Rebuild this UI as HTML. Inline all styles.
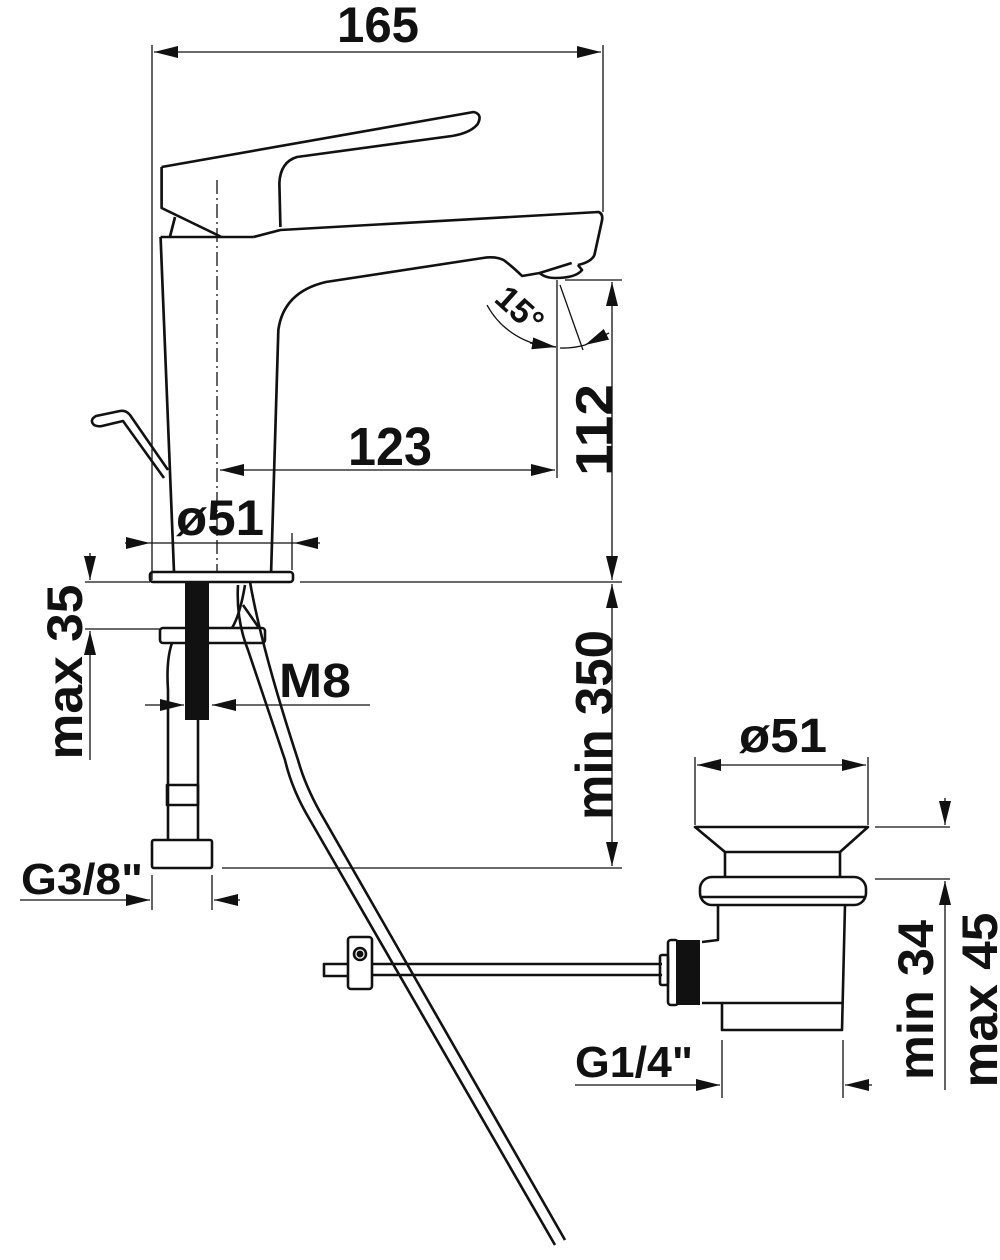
<!DOCTYPE html>
<html><head><meta charset="utf-8"><style>
html,body{margin:0;padding:0;background:#fff}
svg{display:block}
text{font-family:"Liberation Sans Narrow","Liberation Sans",sans-serif;font-weight:bold;fill:#111}
</style></head><body>
<svg width="1000" height="1260" viewBox="0 0 1000 1260" xmlns="http://www.w3.org/2000/svg">
<defs>
<marker id="a" viewBox="0 0 24 12" refX="24" refY="6" markerWidth="24" markerHeight="12" markerUnits="userSpaceOnUse" orient="auto-start-reverse"><path d="M0,0L24,6L0,12z" fill="#111"/></marker>
</defs>
<g stroke="#111" fill="none" stroke-width="1.3">
<line x1="152" y1="45" x2="152" y2="580"/>
<line x1="603" y1="45" x2="603" y2="212"/>
<line x1="154" y1="52" x2="601" y2="52" marker-start="url(#a)" marker-end="url(#a)"/>
<line x1="220" y1="470" x2="555" y2="470" marker-start="url(#a)" marker-end="url(#a)"/>
<line x1="557" y1="280" x2="557" y2="478"/>
<line x1="565" y1="280" x2="622" y2="280"/>
<line x1="612" y1="282" x2="612" y2="580" marker-start="url(#a)" marker-end="url(#a)"/>
<line x1="300" y1="582" x2="622" y2="582"/>
<line x1="612" y1="584" x2="612" y2="866" marker-start="url(#a)" marker-end="url(#a)"/>
<line x1="222" y1="868" x2="622" y2="868"/>
<path d="M487,305 A80,80 0 0 0 556,347"/>
<line x1="530" y1="343" x2="556" y2="347" marker-end="url(#a)"/>
<path d="M560,348 A80,80 0 0 0 585,345"/>
<line x1="609" y1="333" x2="585" y2="345" marker-end="url(#a)"/>
<line x1="560" y1="285" x2="583" y2="350"/>
<line x1="125" y1="543" x2="150" y2="543" marker-end="url(#a)"/>
<line x1="150" y1="543" x2="294" y2="543"/>
<line x1="320" y1="543" x2="294" y2="543" marker-end="url(#a)"/>
<line x1="292" y1="533" x2="292" y2="570"/>
<line x1="85" y1="582" x2="150" y2="582"/>
<line x1="85" y1="629" x2="160" y2="629"/>
<line x1="90" y1="553" x2="90" y2="580" marker-end="url(#a)"/>
<line x1="90" y1="760" x2="90" y2="631" marker-end="url(#a)"/>
<line x1="145" y1="705" x2="184" y2="705" marker-end="url(#a)"/>
<line x1="370" y1="705" x2="212" y2="705" marker-end="url(#a)"/>
<line x1="152" y1="875" x2="152" y2="910"/>
<line x1="212" y1="875" x2="212" y2="910"/>
<line x1="20" y1="900" x2="150" y2="900" marker-end="url(#a)"/>
<line x1="240" y1="900" x2="214" y2="900" marker-end="url(#a)"/>
<line x1="695" y1="757" x2="695" y2="825"/>
<line x1="868" y1="757" x2="868" y2="825"/>
<line x1="697" y1="765" x2="866" y2="765" marker-start="url(#a)" marker-end="url(#a)"/>
<line x1="875" y1="827" x2="950" y2="827"/>
<line x1="875" y1="879" x2="950" y2="879"/>
<line x1="945" y1="798" x2="945" y2="825" marker-end="url(#a)"/>
<line x1="945" y1="1090" x2="945" y2="881" marker-end="url(#a)"/>
<line x1="722" y1="1040" x2="722" y2="1098"/>
<line x1="843" y1="1040" x2="843" y2="1098"/>
<line x1="575" y1="1085" x2="720" y2="1085" marker-end="url(#a)"/>
<line x1="872" y1="1085" x2="845" y2="1085" marker-end="url(#a)"/>
<line x1="217" y1="180" x2="217" y2="572" stroke-dasharray="14,4,2,4"/>
</g>
<g stroke="#111" fill="none" stroke-width="2.6" stroke-linejoin="round">
<g transform="matrix(1.033,0,0,1,-2.64,0)">
<path d="M159,167 L461,112 Q470,114 465,124 Q458,133 440,136 L290,157 Q274,162 273,183 L274,227"/>
<path d="M159,167 L159,208 L217,237 L248,237"/>
<path d="M248,237 L274,230 L582,212 Q587,214 585,222 L578,255 Q575,262 562,265"/>
<path d="M562,265 L566,270 Q560,278 540,278 Q530,278 525,273 L556,263"/>
<path d="M525,273 L508,276 Q498,266 490,260 Q482,256 470,258 L318,282 Q277,292 272,330 L265,572"/>
<path d="M158,237 L171,572"/>
<path d="M158,237 L217,237 M167,237 L172,217"/>
</g>
<rect x="150" y="572" width="143" height="10" rx="3"/>
<path d="M168,470 L130,415 Q126,410 120,411 L96,416 Q89,420 94,425 Q98,427 102,426 L123,421 L164,478"/>
<rect x="160" y="628" width="105" height="15" rx="3"/>
<path d="M172,643 Q166,660 168,690 L168,840 M198,720 L198,840"/>
<rect x="167" y="785" width="31" height="20" fill="none"/>
<rect x="152" y="840" width="60" height="28" rx="2"/>
<path d="M238,585 Q236,620 248,650 L285,760 Q292,790 310,820 L555,1245"/>
<path d="M250,582 Q262,650 298,760 Q305,785 320,812 L565,1240"/>
<path d="M245,585 Q240,615 232,628 M259,628 L243,605"/>
<path d="M372,964 L662,964 M372,975 L662,975 M348,964 L324,964 L324,976 L348,976"/>
<rect x="348" y="937" width="24" height="52" rx="3" fill="#fff"/>
<circle cx="360" cy="954" r="6"/>
<path d="M695,827 L868,827 L840,852 L725,852 Z"/>
<path d="M725,852 L725,877 M840,852 L840,877"/>
<rect x="700" y="877" width="166" height="28" rx="12"/>
<line x1="700" y1="897" x2="866" y2="897"/>
<path d="M718,905 L718,940 L702,942 M845,905 L842,1030 L722,1030 L722,1003 L702,1003"/>
<line x1="722" y1="1003" x2="843" y2="1003"/>
<rect x="668" y="940" width="10" height="65" rx="3"/>
<rect x="660" y="955" width="8" height="30" rx="2"/>
</g>
<rect x="676" y="940" width="24" height="65" fill="#111"/>
<rect x="185" y="582" width="24" height="138" fill="#111"/>
<circle cx="360" cy="954" r="3.5" fill="#111"/>
<g>
<text x="378" y="42" font-size="50" text-anchor="middle" textLength="82" lengthAdjust="spacingAndGlyphs">165</text>
<text x="390" y="465" font-size="54" text-anchor="middle" textLength="84" lengthAdjust="spacingAndGlyphs">123</text>
<text x="220" y="535" font-size="50" text-anchor="middle" textLength="88" lengthAdjust="spacingAndGlyphs">ø51</text>
<text x="315" y="697" font-size="48" text-anchor="middle" textLength="72" lengthAdjust="spacingAndGlyphs">M8</text>
<text x="82" y="894" font-size="44" text-anchor="middle" textLength="122" lengthAdjust="spacingAndGlyphs">G3/8"</text>
<text x="783" y="752" font-size="48" text-anchor="middle" textLength="88" lengthAdjust="spacingAndGlyphs">ø51</text>
<text x="634" y="1077" font-size="44" text-anchor="middle" textLength="118" lengthAdjust="spacingAndGlyphs">G1/4"</text>
<text transform="translate(612,430) rotate(-90)" font-size="52" text-anchor="middle" textLength="92" lengthAdjust="spacingAndGlyphs">112</text>
<text transform="translate(612,725) rotate(-90)" font-size="52" text-anchor="middle" textLength="190" lengthAdjust="spacingAndGlyphs">min 350</text>
<text transform="translate(82,672) rotate(-90)" font-size="50" text-anchor="middle" textLength="175" lengthAdjust="spacingAndGlyphs">max 35</text>
<text transform="translate(933,1000) rotate(-90)" font-size="50" text-anchor="middle" textLength="160" lengthAdjust="spacingAndGlyphs">min 34</text>
<text transform="translate(997,1000) rotate(-90)" font-size="50" text-anchor="middle" textLength="175" lengthAdjust="spacingAndGlyphs">max 45</text>
<text transform="translate(512,318) rotate(42)" font-size="34" text-anchor="middle">15°</text>
</g>
</svg>
</body></html>
